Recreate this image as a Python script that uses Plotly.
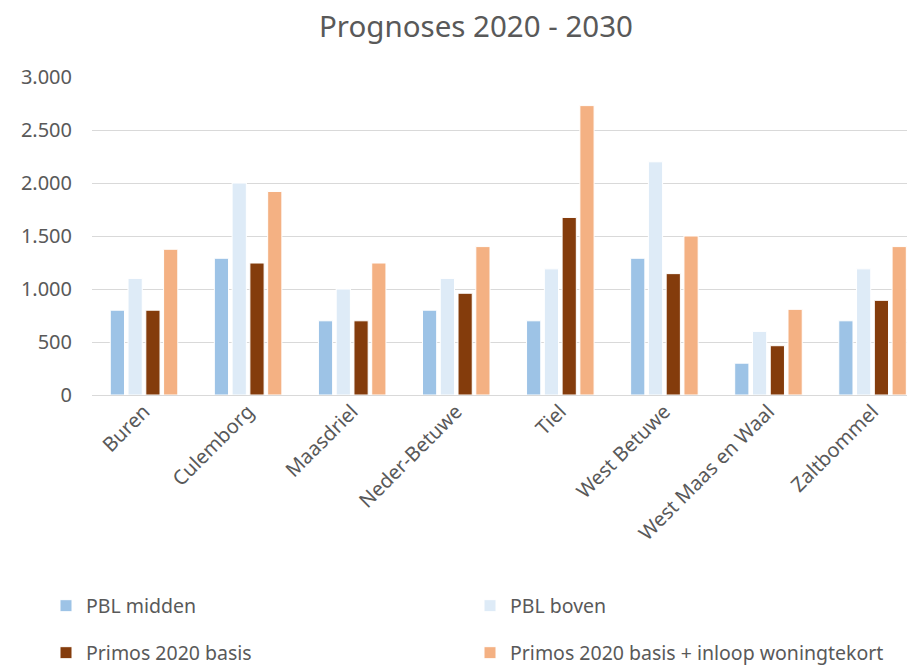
import plotly.graph_objects as go

categories = ["Buren", "Culemborg", "Maasdriel", "Neder-Betuwe", "Tiel",
              "West Betuwe", "West Maas en Waal", "Zaltbommel"]
pbl_midden = [800, 1290, 700, 800, 700, 1290, 300, 700]
pbl_boven = [1100, 2000, 1000, 1100, 1190, 2200, 600, 1190]
primos_basis = [800, 1245, 700, 960, 1675, 1145, 465, 893]
primos_inloop = [1375, 1920, 1245, 1400, 2730, 1500, 808, 1400]
y_ticks = [0, 500, 1000, 1500, 2000, 2500, 3000]
title_text = "Prognoses 2020 - 2030"

series = [
    ("PBL midden", pbl_midden, "#9DC3E6"),
    ("PBL boven", pbl_boven, "#DEEBF7"),
    ("Primos 2020 basis", primos_basis, "#843C0C"),
    ("Primos 2020 basis + inloop woningtekort", primos_inloop, "#F4B183"),
]
legend_ids = ["legend", "legend2", "legend3", "legend4"]

# page body has an 8px margin; figure is sized/positioned to compensate
W, H = 907, 659
font_family = "Noto Sans, sans-serif"
txt = "#595959"

fig = go.Figure()
for (name, vals, color), leg in zip(series, legend_ids):
    fig.add_trace(go.Bar(
        x=categories, y=vals, name=name, legend=leg,
        marker=dict(color=color, line=dict(color="white", width=1)),
    ))

def leg(xpx, ypx):
    return dict(orientation="h", xref="container", yref="container",
                x=xpx / W, xanchor="left", y=1 - ypx / H, yanchor="middle",
                itemwidth=30,
                font=dict(size=19.5, color=txt, family=font_family))

fig.update_layout(
    width=W, height=H,
    paper_bgcolor="white", plot_bgcolor="white",
    separators=",.",
    font=dict(family=font_family, color=txt, size=20),
    margin=dict(l=84, r=0, t=69, b=272, autoexpand=False),
    barmode="group", bargap=0.317, bargroupgap=0.2,
    legend=leg(38, 598),
    legend2=leg(462, 598),
    legend3=leg(38, 645),
    legend4=leg(462, 645),
    showlegend=True,
)
fig.add_annotation(text=title_text, xref="paper", yref="paper",
                   x=(468 - 84) / (W - 84), xanchor="center",
                   y=1 + (69 - 17) / 318, yanchor="middle",
                   showarrow=False,
                   font=dict(size=29.5, color=txt, family=font_family))
fig.update_xaxes(tickangle=-45, showgrid=False, showline=False, ticks="",
                 automargin=False, range=[-0.5, 7.408],
                 tickfont=dict(size=20, color=txt))
fig.update_yaxes(range=[0, 3000], tickvals=y_ticks, tickformat=",d",
                 showgrid=True, gridcolor="#D9D9D9", gridwidth=1,
                 zeroline=True, zerolinecolor="#D9D9D9", zerolinewidth=1,
                 ticks="", automargin=False, ticklabelstandoff=19,
                 tickfont=dict(size=20, color=txt))

fig.write_html("out.html")
